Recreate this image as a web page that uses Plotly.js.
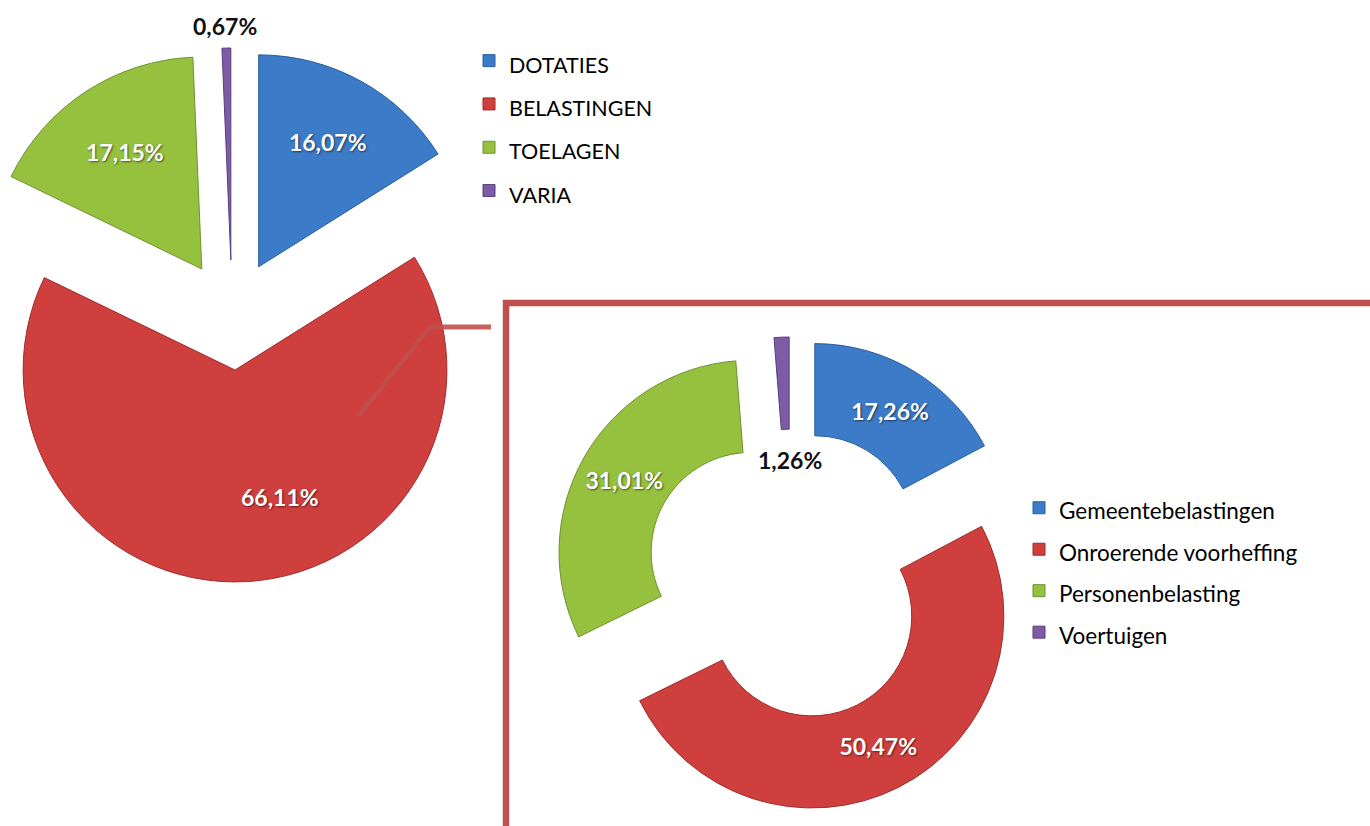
<!DOCTYPE html>
<html>
<head>
<meta charset="utf-8">
<script src="https://cdn.plot.ly/plotly-3.0.1.min.js"></script>
<style>
  html, body { margin: 0; padding: 0; background: #ffffff; overflow: hidden; width: 1370px; height: 826px; }
  #chart { position: absolute; left: -40px; top: 0; width: 1410px; height: 826px; }
</style>
</head>
<body>
<div id="chart"></div>
<script>
// ---- data ----
const mainCategories = ['DOTATIES', 'BELASTINGEN', 'TOELAGEN', 'VARIA'];
const mainShares = [16.07, 66.11, 17.15, 0.67];
const taxCategories = ['Gemeentebelastingen', 'Onroerende voorheffing', 'Personenbelasting', 'Voertuigen'];
const taxShares = [17.26, 50.47, 31.01, 1.26];

// ---- styling / layout helpers ----
const sliceColors = ['#3C7BC8', '#CF3F3E', '#96C13F', '#7D5BA6'];
const edgeColors = ['#2B5E9C', '#9C2E2D', '#6E9230', '#58407D'];
const W = 1410, H = 826, OFF = 40;
const px = x => (x + OFF) / W;
const py = y => 1 - y / H;
const fmt = v => v.toFixed(2).replace('.', ',') + '%';
const legendLabel = (c, size) => '<span style="font-size:' + size + 'px">' + c + '</span>';
const labelFont = { family: 'Lato', size: 23, color: '#ffffff', weight: 'bold', shadow: '1px 1px 2px rgba(0,0,0,0.55)' };
const darkLabelFont = { family: 'Lato', size: 23, color: '#111111', weight: 'bold' };

const mainPie = {
  type: 'pie',
  labels: mainCategories.map(c => legendLabel(c, 21.5)),
  values: mainShares,
  // slices 2 and 4 are labelled with annotations (placed like the original)
  text: mainShares.map((v, i) => (i === 1 || i === 3 ? '' : fmt(v))),
  textinfo: 'text',
  textposition: 'inside',
  insidetextorientation: 'horizontal',
  sort: false,
  direction: 'clockwise',
  rotation: 0,
  pull: 0.26,
  marker: { colors: sliceColors, line: { color: edgeColors, width: 1 } },
  insidetextfont: labelFont,
  domain: { x: [px(-35), px(499)], y: [py(582), py(48)] },
  legend: 'legend',
  hoverinfo: 'none'
};

const taxDonut = {
  type: 'pie',
  labels: taxCategories.map(c => legendLabel(c, 22.5)),
  values: taxShares,
  text: taxShares.map((v, i) => (i === 3 ? '' : fmt(v))),
  textinfo: 'text',
  textposition: 'inside',
  insidetextorientation: 'horizontal',
  sort: false,
  direction: 'clockwise',
  rotation: 0,
  hole: 0.52,
  pull: 0.24,
  marker: { colors: sliceColors, line: { color: edgeColors, width: 1 } },
  insidetextfont: labelFont,
  domain: { x: [px(553), px(1029)], y: [py(813), py(337)] },
  legend: 'legend2',
  hoverinfo: 'none'
};

const layout = {
  width: W,
  height: H,
  margin: { l: 0, r: 0, t: 0, b: 0 },
  paper_bgcolor: '#ffffff',
  font: { family: 'Lato', color: '#000000' },
  showlegend: true,
  legend: {
    x: px(469), xanchor: 'left', y: py(34), yanchor: 'top',
    font: { family: 'Lato', size: 31, color: '#000000' },
    bgcolor: 'rgba(0,0,0,0)'
  },
  legend2: {
    x: px(1019), xanchor: 'left', y: py(482), yanchor: 'top',
    font: { family: 'Lato', size: 29.6, color: '#000000' },
    bgcolor: 'rgba(0,0,0,0)'
  },
  shapes: [
    { type: 'path', xref: 'paper', yref: 'paper',
      path: 'M ' + px(506) + ',' + py(840) + ' L ' + px(506) + ',' + py(303) + ' L ' + px(1390) + ',' + py(303),
      line: { color: '#C0504D', width: 6.5 } },
    { type: 'path', xref: 'paper', yref: 'paper',
      path: 'M ' + px(358) + ',' + py(416) + ' L ' + px(430) + ',' + py(327) + ' L ' + px(491) + ',' + py(327),
      line: { color: '#C0504D', width: 5 }, opacity: 0.9 }
  ],
  annotations: [
    { xref: 'paper', yref: 'paper', x: px(280), y: py(497), text: fmt(mainShares[1]),
      showarrow: false, xanchor: 'center', yanchor: 'middle', font: labelFont },
    { xref: 'paper', yref: 'paper', x: px(225), y: py(26), text: fmt(mainShares[3]),
      showarrow: false, xanchor: 'center', yanchor: 'middle', font: darkLabelFont },
    { xref: 'paper', yref: 'paper', x: px(790), y: py(460), text: fmt(taxShares[3]),
      showarrow: false, xanchor: 'center', yanchor: 'middle', font: darkLabelFont }
  ]
};

Plotly.newPlot('chart', [mainPie, taxDonut], layout, { displayModeBar: false, staticPlot: true });
</script>
</body>
</html>
